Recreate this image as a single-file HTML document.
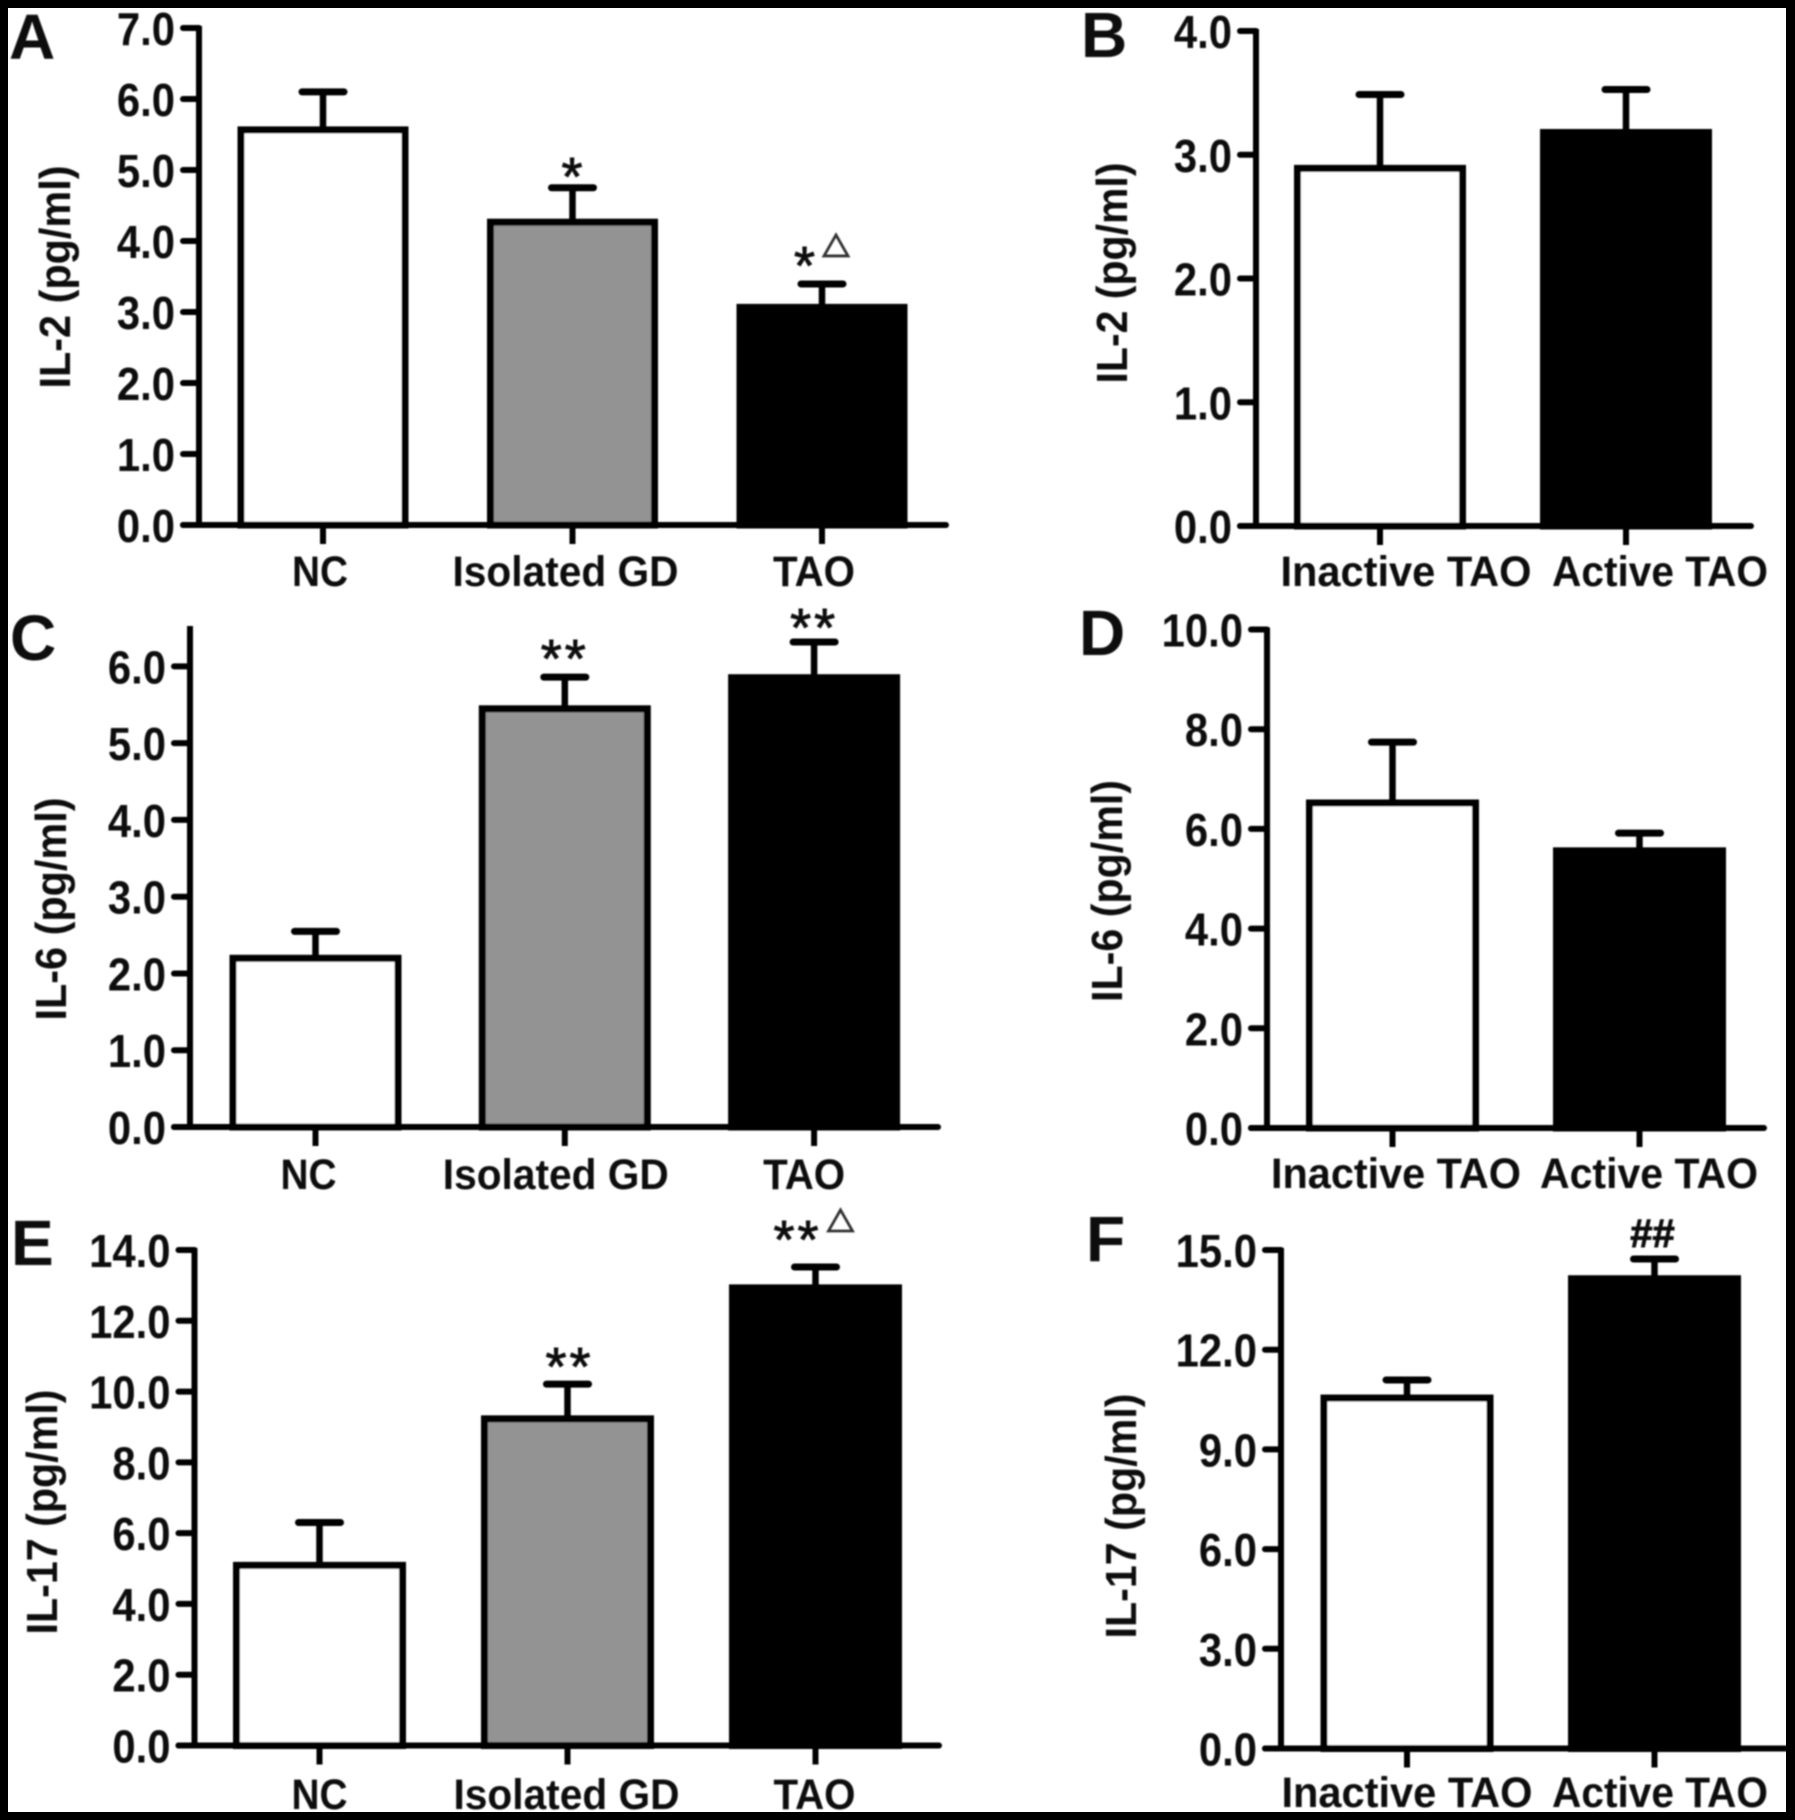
<!DOCTYPE html>
<html lang="en">
<head>
<meta charset="utf-8">
<title>Cytokine levels by patient group</title>
<style>
  html, body { margin: 0; padding: 0; background: #000; }
  body { width: 1795px; height: 1820px; overflow: hidden; }
  svg { display: block; }
  text { font-family: "Liberation Sans", sans-serif; fill: #0b0b0b; }
  .bold { font-weight: 700; }
</style>
</head>
<body>
<svg id="figure" xmlns="http://www.w3.org/2000/svg" width="1795" height="1820" viewBox="0 0 1795 1820">
  <defs>
    <filter id="soft" x="-2%" y="-2%" width="104%" height="104%"><feGaussianBlur stdDeviation="0.85"/></filter>
  </defs>
  <rect x="0" y="0" width="1795" height="1820" fill="#ffffff"/>
  <g id="plots" filter="url(#soft)"></g>
  <path fill="#000000" fill-rule="evenodd" d="M0 0H1795V1820H0Z M8 8V1812H1786V8Z"/>
</svg>
<script>
// Panel A: IL-2 across three groups
const aCategories = ['NC', 'Isolated GD', 'TAO'];
const aValues = [5.6, 4.3, 3.1];
const aErrors = [0.5, 0.45, 0.295];
const aTicks = [0, 1, 2, 3, 4, 5, 6, 7];
const aTickLabels = ['0.0', '1.0', '2.0', '3.0', '4.0', '5.0', '6.0', '7.0'];
const aMarks = ['', '*', '*'];
const aTriangles = [false, false, true];

// Panel B: IL-2 by TAO activity
const bCategories = ['Inactive TAO', 'Active TAO'];
const bValues = [2.91, 3.2];
const bErrors = [0.577, 0.327];
const bTicks = [0, 1, 2, 3, 4];
const bTickLabels = ['0.0', '1.0', '2.0', '3.0', '4.0'];
const bMarks = ['', ''];
const bTriangles = [false, false];

// Panel C: IL-6 across three groups
const cCategories = ['NC', 'Isolated GD', 'TAO'];
const cValues = [2.23, 5.48, 5.885];
const cErrors = [0.318, 0.38, 0.433];
const cTicks = [0, 1, 2, 3, 4, 5, 6];
const cTickLabels = ['0.0', '1.0', '2.0', '3.0', '4.0', '5.0', '6.0'];
const cMarks = ['', '**', '**'];
const cTriangles = [false, false, false];

// Panel D: IL-6 by TAO activity
const dCategories = ['Inactive TAO', 'Active TAO'];
const dValues = [6.57, 5.61];
const dErrors = [1.17, 0.305];
const dTicks = [0, 2, 4, 6, 8, 10];
const dTickLabels = ['0.0', '2.0', '4.0', '6.0', '8.0', '10.0'];
const dMarks = ['', ''];
const dTriangles = [false, false];

// Panel E: IL-17 across three groups
const eCategories = ['NC', 'Isolated GD', 'TAO'];
const eValues = [5.16, 9.3, 13.0];
const eErrors = [1.14, 0.91, 0.52];
const eTicks = [0, 2, 4, 6, 8, 10, 12, 14];
const eTickLabels = ['0.0', '2.0', '4.0', '6.0', '8.0', '10.0', '12.0', '14.0'];
const eMarks = ['', '**', '**'];
const eTriangles = [false, false, true];

// Panel F: IL-17 by TAO activity
const fCategories = ['Inactive TAO', 'Active TAO'];
const fValues = [10.62, 14.21];
const fErrors = [0.47, 0.52];
const fTicks = [0, 3, 6, 9, 12, 15];
const fTickLabels = ['0.0', '3.0', '6.0', '9.0', '12.0', '15.0'];
const fMarks = ['', '##'];
const fTriangles = [false, false];

const fills = { 'NC': '#ffffff', 'Isolated GD': '#939393', 'TAO': '#000000', 'Inactive TAO': '#ffffff', 'Active TAO': '#000000' };
const SVGNS = 'http://www.w3.org/2000/svg';
const plots = document.getElementById('plots');

function make(tag, attrs, parent, content) {
  const el = document.createElementNS(SVGNS, tag);
  Object.keys(attrs).forEach(function (k) { el.setAttribute(k, attrs[k]); });
  if (content !== undefined) el.textContent = content;
  parent.appendChild(el);
  return el;
}

function drawPanel(p) {
  const slug = p.letter.toLowerCase();
  const g = make('g', {}, plots);
  
  

  const y = function (v) { return p.y0 - (v / p.domainMax) * (p.y0 - p.yTop); };
  const xc = function (i) { return p.x0 + i * p.step; };
  const sw = 6;
  const barStroke = 7;
  const barWidth = p.barW + 3;

  // panel letter
  const letter = make('text', { x: p.letterX, y: p.letterY, 'font-size': 64, 'class': 'bold', 'fill': '#000' }, g, p.letter);
  
  

  // y axis title
  const title = make('text', {
    x: 0, y: 0, 'font-size': 44, 'class': 'bold', 'text-anchor': 'middle',
    textLength: p.titleLen, lengthAdjust: 'spacingAndGlyphs',
    transform: 'translate(' + p.titleX + ',' + p.titleY + ') rotate(-90)'
  }, g, p.title);
  
  

  // bars
  p.categories.forEach(function (cat, i) {
    const c = xc(i);
    const top = y(p.values[i]);
    const cap = y(p.values[i] + p.errors[i]);

    const stem = make('line', { x1: c, x2: c, y1: top + 2.5, y2: cap, stroke: '#000', 'stroke-width': 6.5 }, g);
    
    

    const capLine = make('line', { x1: c - 21, x2: c + 21, y1: cap, y2: cap, stroke: '#000', 'stroke-width': 7, 'stroke-linecap': 'round' }, g);
    
    

    const bar = make('rect', {
      x: c - barWidth / 2 + barStroke / 2, y: top + 2.5, width: barWidth - barStroke, height: p.y0 - top - 2.5,
      fill: fills[cat], stroke: '#000', 'stroke-width': barStroke
    }, g);
    
    

    const tick = make('line', { x1: c, x2: c, y1: p.y0, y2: p.y0 + 19, stroke: '#000', 'stroke-width': 6 }, g);
    
    

    const label = make('text', {
      x: c + p.labelDx[i], y: p.labelY, 'font-size': 43, 'class': 'bold', 'text-anchor': 'middle',
      textLength: p.labelLen[i], lengthAdjust: 'spacingAndGlyphs'
    }, g, cat);
    
    

    if (p.marks[i]) {
      const isHash = p.marks[i].indexOf('#') === 0;
      const my = cap + p.markDy[i];
      const mx = c + p.markDx[i];
      const mark = make('text', {
        x: mx, y: my + (isHash ? 14 : 29), 'font-size': isHash ? 40 : 54, 'text-anchor': 'middle',
        'font-weight': isHash ? 700 : 400, stroke: '#0b0b0b', 'stroke-width': 0.9,
        'letter-spacing': isHash ? 0 : 3
      }, g, p.marks[i]);
      
      
    }
    if (p.triangles[i]) {
      const tx = c + p.triDx;
      const tb = cap + p.triDy;
      const tri = make('polygon', {
        points: (tx - 12) + ',' + tb + ' ' + (tx + 12) + ',' + tb + ' ' + tx + ',' + (tb - 21),
        fill: 'none', stroke: '#333', 'stroke-width': 2.8
      }, g);
      
      
    }
  });

  // y axis, ticks and tick labels
  const yAxis = make('line', { x1: p.axisX, x2: p.axisX, y1: p.yTop - 2, y2: p.y0 + 3, stroke: '#000', 'stroke-width': sw }, g);
  
  

  const xAxis = make('line', { x1: p.axisX - 16, x2: p.xEnd, y1: p.y0, y2: p.y0, stroke: '#000', 'stroke-width': sw, 'stroke-linecap': 'round' }, g);
  
  

  p.ticks.forEach(function (v, i) {
    const t = make('line', { x1: p.axisX - 16, x2: p.axisX, y1: y(v), y2: y(v), stroke: '#000', 'stroke-width': sw, 'stroke-linecap': 'round' }, g);
    
    

    const s = p.tickLabels[i];
    const natural = ((s.length - 1) * 0.556 + 0.278) * 44;
    const lab = make('text', {
      x: p.axisX - 24, y: y(v) + 17, 'font-size': 46, 'class': 'bold', 'text-anchor': 'end',
      textLength: natural * 0.95, lengthAdjust: 'spacingAndGlyphs'
    }, g, s);
    
    
  });
}

drawPanel({
  letter: 'A', letterX: 9, letterY: 59, title: 'IL-2 (pg/ml)', titleX: 70, titleY: 277, titleLen: 223,
  categories: aCategories, values: aValues, errors: aErrors, ticks: aTicks, tickLabels: aTickLabels,
  marks: aMarks, triangles: aTriangles, domainMax: 7,
  axisX: 199, y0: 525, yTop: 28, xEnd: 946, x0: 323, step: 249.5, barW: 168,
  labelY: 586, labelDx: [-3, -7, -8], labelLen: [56, 226, 82],
  markDx: [0, 1, -16], markDy: [0, -22, -29], triDx: 14, triDy: -28
});
drawPanel({
  letter: 'B', letterX: 1081, letterY: 57, title: 'IL-2 (pg/ml)', titleX: 1127, titleY: 273, titleLen: 221,
  categories: bCategories, values: bValues, errors: bErrors, ticks: bTicks, tickLabels: bTickLabels,
  marks: bMarks, triangles: bTriangles, domainMax: 4,
  axisX: 1256, y0: 526, yTop: 31, xEnd: 1751, x0: 1380, step: 246, barW: 169,
  labelY: 586, labelDx: [26, 34], labelLen: [251, 216],
  markDx: [0, 0], markDy: [0, 0], triDx: 0, triDy: 0
});
drawPanel({
  letter: 'C', letterX: 10, letterY: 660, title: 'IL-6 (pg/ml)', titleX: 66, titleY: 909, titleLen: 223,
  categories: cCategories, values: cValues, errors: cErrors, ticks: cTicks, tickLabels: cTickLabels,
  marks: cMarks, triangles: cTriangles, domainMax: 6.5,
  axisX: 190, y0: 1127, yTop: 628, xEnd: 938, x0: 315.5, step: 249.3, barW: 169,
  labelY: 1189, labelDx: [-7, -9, -10], labelLen: [56, 226, 82],
  markDx: [0, 0, 0], markDy: [0, -29, -25], triDx: 0, triDy: 0
});
drawPanel({
  letter: 'D', letterX: 1079, letterY: 655, title: 'IL-6 (pg/ml)', titleX: 1122, titleY: 891, titleLen: 222,
  categories: dCategories, values: dValues, errors: dErrors, ticks: dTicks, tickLabels: dTickLabels,
  marks: dMarks, triangles: dTriangles, domainMax: 10,
  axisX: 1267, y0: 1128, yTop: 629.5, xEnd: 1764, x0: 1392.5, step: 247, barW: 170,
  labelY: 1188, labelDx: [3.5, 9.5], labelLen: [250, 218],
  markDx: [0, 0], markDy: [0, 0], triDx: 0, triDy: 0
});
drawPanel({
  letter: 'E', letterX: 11, letterY: 1265, title: 'IL-17 (pg/ml)', titleX: 57, titleY: 1512, titleLen: 245,
  categories: eCategories, values: eValues, errors: eErrors, ticks: eTicks, tickLabels: eTickLabels,
  marks: eMarks, triangles: eTriangles, domainMax: 14,
  axisX: 194.5, y0: 1745.5, yTop: 1250, xEnd: 939, x0: 319.5, step: 248, barW: 170,
  labelY: 1809, labelDx: [0, -1, -1], labelLen: [56, 226, 82],
  markDx: [0, 2, -18], markDy: [0, -28, -38], triDx: 25, triDy: -36
});
drawPanel({
  letter: 'F', letterX: 1086, letterY: 1261, title: 'IL-17 (pg/ml)', titleX: 1136, titleY: 1516, titleLen: 245,
  categories: fCategories, values: fValues, errors: fErrors, ticks: fTicks, tickLabels: fTickLabels,
  marks: fMarks, triangles: fTriangles, domainMax: 15,
  axisX: 1281, y0: 1748.5, yTop: 1250, xEnd: 1790, x0: 1407, step: 247.5, barW: 170,
  labelY: 1807, labelDx: [0, 5.5], labelLen: [251, 216],
  markDx: [0, -2], markDy: [0, -26], triDx: 0, triDy: 0
});
</script>
</body>
</html>
